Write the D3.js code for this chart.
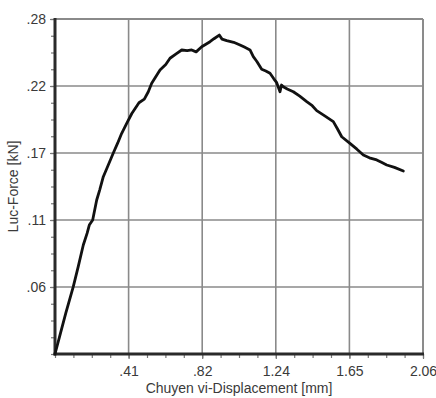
<!DOCTYPE html>
<html>
<head>
<meta charset="utf-8">
<script src="https://cdn.jsdelivr.net/npm/d3@7"></script>
<style>
  html, body { margin: 0; padding: 0; background: #fff; }
  svg { display: block; }
  text { font-family: "Liberation Sans", Arial, sans-serif; fill: #3a3a3a; }
</style>
</head>
<body>
<svg id="chart" width="436" height="398"></svg>
<script>
// Data
const displacement = [0, 0.03, 0.06, 0.1024, 0.13, 0.1584, 0.18, 0.192, 0.211, 0.2334, 0.25, 0.2704, 0.29, 0.3264, 0.35, 0.3734, 0.4014, 0.43, 0.47, 0.50, 0.5223, 0.5413, 0.5878, 0.62, 0.6438, 0.68, 0.7093, 0.74, 0.7652, 0.79, 0.8212, 0.84, 0.8677, 0.89, 0.9197, 0.935, 0.9612, 1.0, 1.0356, 1.06, 1.0916, 1.1101, 1.13, 1.157, 1.18, 1.2036, 1.225, 1.241, 1.2595, 1.268, 1.278, 1.30, 1.334, 1.37, 1.409, 1.44, 1.465, 1.51, 1.558, 1.58, 1.605, 1.651, 1.69, 1.726, 1.76, 1.801, 1.83, 1.857, 1.90, 1.95];
const force = [0, 0.017, 0.034, 0.0563, 0.073, 0.0911, 0.101, 0.1078, 0.112, 0.1287, 0.137, 0.1482, 0.155, 0.168, 0.176, 0.1845, 0.1928, 0.201, 0.210, 0.213, 0.2192, 0.2263, 0.2374, 0.242, 0.2472, 0.251, 0.2541, 0.2535, 0.2541, 0.2525, 0.2568, 0.2585, 0.2610, 0.2635, 0.2666, 0.2632, 0.2619, 0.2605, 0.2583, 0.2565, 0.2541, 0.2485, 0.2445, 0.238, 0.2365, 0.2346, 0.2300, 0.2268, 0.2192, 0.2248, 0.2234, 0.2215, 0.2192, 0.2155, 0.2109, 0.2075, 0.2034, 0.1990, 0.1942, 0.1885, 0.1816, 0.1761, 0.1712, 0.1663, 0.1640, 0.1622, 0.1600, 0.1580, 0.1560, 0.1530];
const xTickValues = [0.412, 0.824, 1.236, 1.648, 2.06];
const xTickLabels = [".41", ".82", "1.24", "1.65", "2.06"];
const yTickValues = [0.056, 0.112, 0.168, 0.224, 0.28];
const yTickLabels = [".06", ".11", ".17", ".22", ".28"];
const xTitle = "Chuyen vi-Displacement [mm]";
const yTitle = "Luc-Force [kN]";

(function () {
const svg = d3.select("#chart");
const mL = 55, mR = 423, mT = 19, mB = 354;
const x = d3.scaleLinear().domain([0, 2.06]).range([mL, mR]);
const y = d3.scaleLinear().domain([0, 0.28]).range([mB, mT]);

const gridColor = "#8a8a8a";

// grid lines
svg.append("g").selectAll("line").data(xTickValues).join("line")
  .attr("x1", d => x(d)).attr("x2", d => x(d))
  .attr("y1", mT).attr("y2", mB)
  .attr("stroke", gridColor).attr("stroke-width", 1.6);
svg.append("g").selectAll("line").data(yTickValues).join("line")
  .attr("x1", mL).attr("x2", mR)
  .attr("y1", d => y(d)).attr("y2", d => y(d))
  .attr("stroke", gridColor).attr("stroke-width", 1.6);

// minor ticks
const xMinor = d3.range(0, 21).map(i => i * 2.06 / 20);
const yMinor = d3.range(0, 21).map(i => i * 0.28 / 20);

const xAxis = d3.axisBottom(x).tickValues(xMinor).tickSize(4).tickFormat("");
const gx = svg.append("g").attr("transform", `translate(0,${mB})`).call(xAxis);
gx.select(".domain").remove();
gx.selectAll("line").attr("stroke", "#777").attr("stroke-width", 1.2);

const yAxis = d3.axisLeft(y).tickValues(yMinor).tickSize(4).tickFormat("");
const gy = svg.append("g").attr("transform", `translate(${mL},0)`).call(yAxis);
gy.select(".domain").remove();
gy.selectAll("line").attr("stroke", "#777").attr("stroke-width", 1.2);

// major tick labels
const xLab = d3.axisBottom(x).tickValues(xTickValues).tickSize(5)
  .tickFormat((d, i) => xTickLabels[i]).tickPadding(7);
const gxl = svg.append("g").attr("transform", `translate(0,${mB})`).call(xLab);
gxl.select(".domain").remove();
gxl.selectAll("line").attr("stroke", "#777").attr("stroke-width", 1.2);
gxl.selectAll("text").attr("font-size", 14).attr("fill", "#3a3a3a")
  .attr("font-family", "Liberation Sans, Arial, sans-serif");

const yLab = d3.axisLeft(y).tickValues(yTickValues).tickSize(5)
  .tickFormat((d, i) => yTickLabels[i]).tickPadding(4);
const gyl = svg.append("g").attr("transform", `translate(${mL},0)`).call(yLab);
gyl.select(".domain").remove();
gyl.selectAll("line").attr("stroke", "#777").attr("stroke-width", 1.2);
gyl.selectAll("text").attr("font-size", 14).attr("fill", "#3a3a3a")
  .attr("font-family", "Liberation Sans, Arial, sans-serif");

// frame: top and right gray, left and bottom heavy
svg.append("line").attr("x1", mL).attr("x2", mR).attr("y1", mT).attr("y2", mT)
  .attr("stroke", gridColor).attr("stroke-width", 1.8);
svg.append("line").attr("x1", mR).attr("x2", mR).attr("y1", mT).attr("y2", mB)
  .attr("stroke", gridColor).attr("stroke-width", 1.8);
svg.append("line").attr("x1", mL).attr("x2", mL).attr("y1", mT - 1).attr("y2", mB + 1.5)
  .attr("stroke", "#2a2a2a").attr("stroke-width", 3);
svg.append("line").attr("x1", mL - 1.5).attr("x2", mR + 1).attr("y1", mB).attr("y2", mB)
  .attr("stroke", "#2a2a2a").attr("stroke-width", 3);

// curve
const pts = displacement.map((d, i) => [d, force[i]]);
svg.append("path").datum(pts)
  .attr("fill", "none").attr("stroke", "#111").attr("stroke-width", 2.8)
  .attr("stroke-linejoin", "round").attr("stroke-linecap", "round")
  .attr("d", d3.line().x(d => x(d[0])).y(d => y(d[1])));

// titles
svg.append("text").attr("x", (mL + mR) / 2).attr("y", 393)
  .attr("text-anchor", "middle").attr("font-size", 14).text(xTitle);
svg.append("text").attr("transform", `translate(18,${(mT + mB) / 2}) rotate(-90)`)
  .attr("text-anchor", "middle").attr("font-size", 14).text(yTitle);
})();
</script>
</body>
</html>
